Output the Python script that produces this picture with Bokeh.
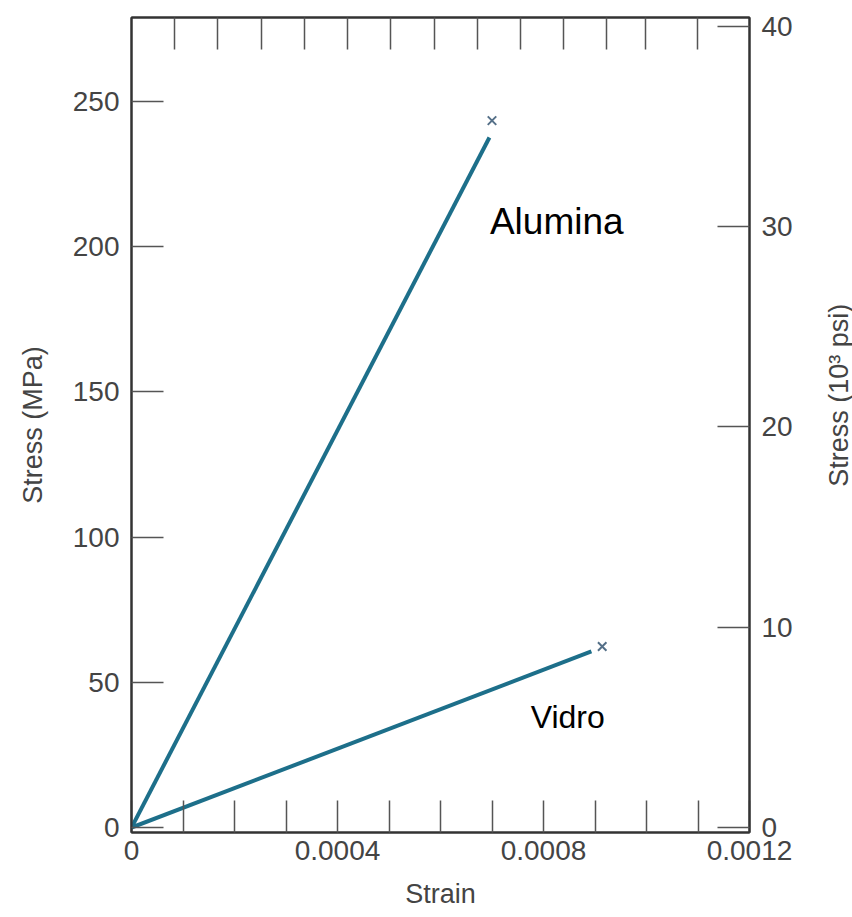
import math
from bokeh.plotting import figure
from bokeh.layouts import row
from bokeh.models import LinearAxis, Range1d, FixedTicker, CustomJSTickFormatter
from bokeh.core.properties import value
from bokeh.embed import file_html
from bokeh.resources import INLINE

# ---- data ----
strain_ticks = [0.0, 0.0004, 0.0008, 0.0012]
strain_minor_ticks = [0.0001, 0.0002, 0.0003, 0.0005, 0.0006, 0.0007, 0.0009, 0.0010, 0.0011]
mpa_ticks = [0, 50, 100, 150, 200, 250]
ksi_ticks = [0, 10, 20, 30, 40]
top_ticks = [1, 2, 3, 4, 5, 6, 7, 8, 9, 10, 11, 11.9, 13.1]

alumina_strain = [0.0, 0.000695]
alumina_stress = [0.0, 237.5]
alumina_fracture_strain = [0.000700]
alumina_fracture_stress = [243.3]

vidro_strain = [0.0, 0.000893]
vidro_stress = [0.0, 60.6]
vidro_fracture_strain = [0.000914]
vidro_fracture_stress = [62.3]

label_names = ["Alumina", "Vidro"]
label_strain = [0.000696, 0.000775]
label_stress = [208.7, 37.9]

x_title = "Strain"
y_title = "Stress (MPa)"
y2_title = "Stress (10³ psi)"

MPA_PER_KSI = 6.895
Y_START, Y_END = -1.7, 278.8
X_START, X_END = 0.0, 0.0012

LINE_COLOR = "#1d6f8a"
MARK_COLOR = "#557088"
FONT = "Liberation Sans"
TITLE_COLOR = "#444444"

W, H = 852, 917
STRIP_W = 40

p = figure(width=W - STRIP_W, height=H,
           x_range=Range1d(X_START, X_END), y_range=Range1d(Y_START, Y_END),
           toolbar_location=None, output_backend="svg",
           min_border_left=131, min_border_right=63,
           min_border_top=17, min_border_bottom=85,
           x_axis_label=x_title, y_axis_label=y_title)

bottom = p.below[0]
left = p.left[0]

p.extra_y_ranges = {"ksi": Range1d(Y_START / MPA_PER_KSI, Y_END / MPA_PER_KSI)}
p.extra_x_ranges = {"top": Range1d(0, 14.3)}

right = LinearAxis(y_range_name="ksi")
p.add_layout(right, "right")
top = LinearAxis(x_range_name="top")
p.add_layout(top, "above")

bottom.ticker = FixedTicker(ticks=strain_ticks + strain_minor_ticks)
bottom.formatter = CustomJSTickFormatter(code="""
const keep = [0, 0.0004, 0.0008, 0.0012];
for (const k of keep) { if (Math.abs(tick - k) < 1e-9) return k == 0 ? "0" : k.toFixed(4); }
return "";
""")
left.ticker = FixedTicker(ticks=mpa_ticks)
right.ticker = FixedTicker(ticks=ksi_ticks)
top.ticker = FixedTicker(ticks=top_ticks)
top.formatter = CustomJSTickFormatter(code="return '';")

for ax in [bottom, left, right, top]:
    ax.axis_line_color = "#333333"
    ax.axis_line_width = 2
    ax.major_tick_in = 32
    ax.major_tick_out = 0
    ax.minor_tick_line_color = None
    ax.major_tick_line_color = "#555555"
    ax.major_tick_line_width = 1.5
    ax.major_label_text_font = FONT
    ax.major_label_text_color = "#444444"
    ax.major_label_text_font_size = "28px"
    ax.major_label_standoff = 12
    ax.axis_label_text_font = FONT
    ax.axis_label_text_font_size = "27px"
    ax.axis_label_text_font_style = "normal"
    ax.axis_label_text_color = TITLE_COLOR

top.major_label_text_font_size = "0px"
top.major_label_standoff = 0

bottom.major_label_standoff = 8
bottom.axis_label_standoff = 16
left.axis_label_standoff = 22

p.outline_line_color = "#333333"
p.outline_line_width = 2
p.xgrid.visible = False
p.ygrid.visible = False
p.background_fill_color = "white"
p.border_fill_color = "white"

p.line(alumina_strain, alumina_stress, line_color=LINE_COLOR, line_width=4)
p.line(vidro_strain, vidro_stress, line_color=LINE_COLOR, line_width=4)
p.scatter(alumina_fracture_strain, alumina_fracture_stress, marker="x", size=12,
          line_color=MARK_COLOR, line_width=2)
p.scatter(vidro_fracture_strain, vidro_fracture_stress, marker="x", size=12,
          line_color=MARK_COLOR, line_width=2)

p.text(x=label_strain[:1], y=label_stress[:1], text=label_names[:1],
       text_font=value(FONT), text_font_size="37px", text_color="black",
       text_align="left", text_baseline="alphabetic")
p.text(x=label_strain[1:], y=label_stress[1:], text=label_names[1:],
       text_font=value(FONT), text_font_size="32px", text_color="black",
       text_align="left", text_baseline="alphabetic")

# narrow strip on the right holding the secondary-axis title (reads bottom to top)
s = figure(width=STRIP_W, height=H, x_range=Range1d(0, STRIP_W), y_range=Range1d(0, H),
           toolbar_location=None, output_backend="svg",
           x_axis_location=None, y_axis_location=None, min_border=0)
s.grid.visible = False
s.outline_line_color = None
s.background_fill_color = "white"
s.border_fill_color = "white"
s.text(x=[26], y=[H - 425], text=[y2_title], angle=math.pi / 2,
       text_font=value(FONT), text_font_size="27px", text_color=TITLE_COLOR,
       text_align="center", text_baseline="middle")

layout = row(p, s, spacing=0)
open("out.html", "w").write(file_html(layout, INLINE))
